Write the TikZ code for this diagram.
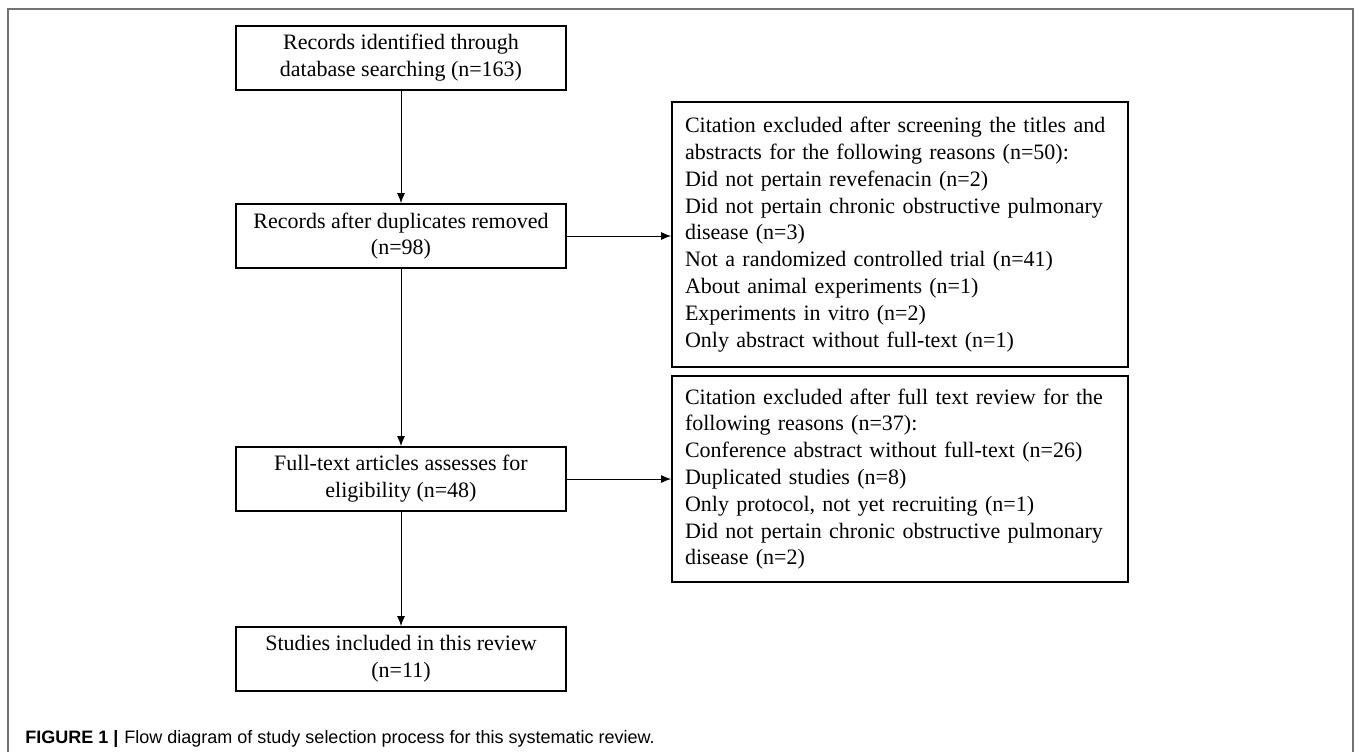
\documentclass[tikz,border=0pt]{standalone}
\usepackage{fontspec}
\setmainfont{Liberation Serif}
\newfontfamily\capsans{Liberation Sans}
\usetikzlibrary{arrows.meta}

\tikzset{
    stage/.style={draw, line width=0.9pt, minimum width=165pt, minimum height=32pt,
        align=center, inner sep=0pt, font=\fontsize{11}{13.4}\selectfont},
    reason/.style={draw, line width=0.9pt, text width=215pt, align=left,
        inner xsep=6.5pt, inner ysep=0pt, font=\fontsize{11}{13.4}\selectfont},
    flow/.style={-{Latex[length=5pt,width=4pt]}, line width=0.5pt},
}

\begin{document}
\begin{tikzpicture}[x=0.5pt, y=-0.5pt]
        \useasboundingbox (0,0) rectangle (1355,752);
        % the figure frame, open at the bottom
        \draw[black!55, line width=0.75pt] (8,752) -- (8,9) -- (1353,9) -- (1353,752);

        % the main stages
        \node[stage] (search) at (401,58) {Records identified through\\database searching (n=163)};
        \node[stage] (dedup) at (401,236) {Records after duplicates removed\\(n=98)};
        \node[stage] (fulltext) at (401,479) {Full-text articles assesses for\\eligibility (n=48)};
        \node[stage] (included) at (401,659) {Studies included in this review\\(n=11)};

        % excluded after screening
        \node[reason, minimum height=132.5pt] (screenout) at (900,234.5) {Citation excluded after screening the titles and\\
            abstracts for the following reasons (n=50):\\
            Did not pertain revefenacin (n=2)\\
            Did not pertain chronic obstructive pulmonary\\
            disease (n=3)\\
            Not a randomized controlled trial (n=41)\\
            About animal experiments (n=1)\\
            Experiments in vitro (n=2)\\
            Only abstract without full-text (n=1)};
        % excluded after full text review
        \node[reason, minimum height=103pt] (fullout) at (900,479) {Citation excluded after full text review for the\\
            following reasons (n=37):\\
            Conference abstract without full-text (n=26)\\
            Duplicated studies (n=8)\\
            Only protocol, not yet recruiting (n=1)\\
            Did not pertain chronic obstructive pulmonary\\
            disease (n=2)};

        % arrows down the main line
        \draw[flow] (search) -- (dedup);
        \draw[flow] (dedup) -- (fulltext);
        \draw[flow] (fulltext) -- (included);
        % arrows to the exclusions
        \draw[flow] (dedup.east) -- (dedup.east -| screenout.west);
        \draw[flow] (fulltext.east) -- (fulltext.east -| fullout.west);

        % the caption
        \node[anchor=base west, inner sep=0pt] (caption) at (25,743)
            {\fontsize{9}{11}\selectfont\capsans\textbf{FIGURE 1 |}\hspace{3pt}Flow diagram of study selection process for this systematic review.};
\end{tikzpicture}
\end{document}
